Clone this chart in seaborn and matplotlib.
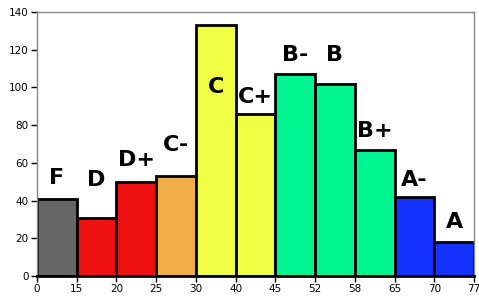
import matplotlib
matplotlib.use("Agg")
import matplotlib.pyplot as plt
import seaborn as sns
import pandas as pd

grades = ["F", "D", "D+", "C-", "C", "C+", "B-", "B", "B+", "A-", "A"]
counts = [41, 31, 50, 53, 133, 86, 107, 102, 67, 42, 18]
colors = ["#666666", "#ee1111", "#ee1111", "#f0ad48", "#f0ff44", "#f0ff44",
          "#00f590", "#00f590", "#00f590", "#1533ff", "#1533ff"]
edges = ["0", "15", "20", "25", "30", "40", "45", "52", "58", "65", "70", "77"]
label_y = [52, 51, 61.5, 69.5, 100, 95, 117, 117, 77, 51, 28.6]

sns.set_style("white")
df = pd.DataFrame({"grade": grades, "count": counts})

fig = plt.figure(figsize=(4.79, 3.0), dpi=100)
ax = fig.add_axes([0.0772, 0.08, 0.9124, 0.88])
sns.barplot(data=df, x="grade", y="count", hue="grade", palette=colors,
            legend=False, width=1.0, edgecolor="black", linewidth=2,
            saturation=1, ax=ax)
for i, (g, y) in enumerate(zip(grades, label_y)):
    ax.text(i, y, g, ha="center", va="center", fontsize=16,
            fontweight="bold", color="black")

ax.set_xlim(-0.5, len(grades) - 0.5)
ax.set_ylim(0, 140)
ax.set_xticks([i - 0.5 for i in range(len(edges))])
ax.set_xticklabels(edges)
ax.set_yticks(range(0, 141, 20))
ax.set_xlabel("")
ax.set_ylabel("")
ax.tick_params(axis="both", labelsize=7.5, length=4, width=1, colors="black",
               direction="out", pad=2)
ax.tick_params(axis="x", bottom=True)
ax.tick_params(axis="y", left=True)
for s in ["top", "right", "left"]:
    ax.spines[s].set_color("#888888")
    ax.spines[s].set_linewidth(1)
ax.spines["bottom"].set_color("black")
ax.spines["bottom"].set_linewidth(2)
fig.savefig("out.png", dpi=100)
